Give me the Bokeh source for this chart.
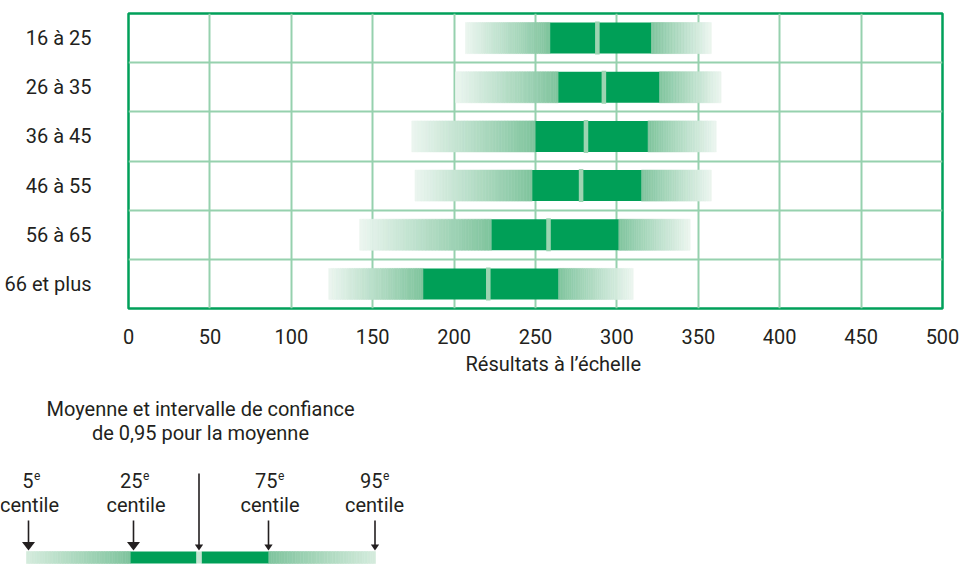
import numpy as np
from bokeh.plotting import figure
from bokeh.models import Range1d, FixedTicker, Title
from bokeh.core.properties import value
from bokeh.embed import file_html
from bokeh.resources import INLINE

# ---------------- data ----------------
age_groups = ["16 à 25", "26 à 35", "36 à 45", "46 à 55", "56 à 65", "66 et plus"]
p5 = [207, 201, 174, 176, 142, 123]
p25 = [259, 264, 250, 248, 223, 181]
mean = [288, 292, 281, 278, 258, 221]
p75 = [321, 326, 319, 315, 301, 264]
p95 = [358, 364, 361, 358, 345, 310]
ci_half = [1.4, 1.4, 1.4, 1.4, 1.4, 1.4]
x_ticks = [0, 50, 100, 150, 200, 250, 300, 350, 400, 450, 500]
x_title = "Résultats à l’échelle"

# key (legend) sample, in key-scale units
key_title = ["Moyenne et intervalle de confiance", "de 0,95 pour la moyenne"]
key_numbers = ["5", "25", "75", "95"]
key_word = "centile"
key_p5, key_p25, key_mean_lo, key_mean_hi, key_p75, key_p95 = 26, 130, 196, 201, 268, 375
key_arrow_x = [28, 133, 198.5, 268, 374.5]
key_arrow_big = [True, True, False, False, False]
key_label_x = [33, 142, 277, 382]
key_word_x = [29, 135.5, 269.5, 374]

FONT = "Roboto"
TXT = "#231F20"
DARK = "#009F57"
MED = (127, 196, 157)
LIGHT = (236, 246, 240)
KEY_LIGHT = (213, 235, 221)
GRID = "#96D1AE"
FRAME = "#00A05A"
MEANC = "#9DD4B2"


def mix(c1, c2, t):
    r = [int(round(a + (b - a) * t)) for a, b in zip(c1, c2)]
    return "#%02x%02x%02x" % tuple(r)


def gradient(x0, x1, c0, c1, n=40):
    e = np.linspace(x0, x1, n + 1)
    lefts = list(np.minimum(e[:-1], e[1:]))
    rights = list(np.maximum(e[:-1], e[1:]))
    cols = [mix(c0, c1, (k + 0.5) / n) for k in range(n)]
    return lefts, rights, cols


n = len(age_groups)
y_centers = [n - i - 0.5 for i in range(n)]
bar_h = 0.63

p = figure(width=963, height=380, x_range=Range1d(0, 500), y_range=Range1d(0, 6),
           output_backend="svg", toolbar_location=None,
           min_border_left=128, min_border_right=21, min_border_top=13, min_border_bottom=72)

# gradient parts
gl, gr, gb, gt, gc = [], [], [], [], []
for i in range(n):
    yc = y_centers[i]
    for (a, b, c0, c1) in [(p5[i], p25[i], LIGHT, MED), (p75[i], p95[i], MED, LIGHT)]:
        l, r, c = gradient(a, b, c0, c1)
        gl += l; gr += r; gc += c
        gb += [yc - bar_h / 2] * len(l)
        gt += [yc + bar_h / 2] * len(l)
p.quad(left=gl, right=gr, bottom=gb, top=gt, fill_color=gc, line_color=gc, line_width=0.6)

# dark interquartile
p.quad(left=p25, right=p75, bottom=[y - bar_h / 2 for y in y_centers],
       top=[y + bar_h / 2 for y in y_centers], fill_color=DARK, line_color=None)

# mean and CI
p.quad(left=[m - c for m, c in zip(mean, ci_half)], right=[m + c for m, c in zip(mean, ci_half)],
       bottom=[y - bar_h / 2 - 0.02 for y in y_centers], top=[y + bar_h / 2 + 0.02 for y in y_centers],
       fill_color=MEANC, line_color=None)

# grid / frame
p.xgrid.ticker = FixedTicker(ticks=x_ticks[1:-1])
p.ygrid.ticker = FixedTicker(ticks=[1, 2, 3, 4, 5])
p.grid.grid_line_color = GRID
p.grid.grid_line_width = 2
p.outline_line_color = FRAME
p.outline_line_width = 2.5

# axes
p.xaxis.ticker = FixedTicker(ticks=x_ticks)
p.yaxis.ticker = FixedTicker(ticks=y_centers)
p.yaxis.major_label_overrides = {y: g for y, g in zip(y_centers, age_groups)}
for ax in (p.xaxis[0], p.yaxis[0]):
    ax.axis_line_color = None
    ax.major_tick_line_color = None
    ax.minor_tick_line_color = None
    ax.major_label_text_font = FONT
    ax.major_label_text_color = TXT
p.xaxis.major_label_text_font_size = "20px"
p.yaxis.major_label_text_font_size = "20px"
p.xaxis.major_label_standoff = 14
p.yaxis.major_label_standoff = 31

p.add_layout(Title(text=x_title, align="left", offset=337, text_font=FONT, text_font_size="20px",
                   text_font_style="normal", text_color=TXT, standoff=7), "below")

# ---------------- key ----------------
k = figure(width=963, height=184, x_range=Range1d(0, 963), y_range=Range1d(564, 380),
           output_backend="svg", toolbar_location=None, min_border=0,
           x_axis_location=None, y_axis_location=None)
k.grid.visible = False
k.outline_line_color = None

k.text(x=[200, 200], y=[408, 432], text=key_title, text_align="center", text_baseline="alphabetic",
       text_font=value(FONT), text_font_size="20px", text_color=TXT)
k.text(x=key_label_x, y=[480] * 4, text=key_numbers, text_align="right", text_baseline="alphabetic",
       text_font=value(FONT), text_font_size="20px", text_color=TXT)
k.text(x=[x + 0.5 for x in key_label_x], y=[475] * 4, text=["e"] * 4, text_align="left",
       text_baseline="alphabetic", text_font=value(FONT), text_font_size="12px", text_color=TXT)
k.text(x=key_word_x, y=[504] * 4, text=[key_word] * 4, text_align="center", text_baseline="alphabetic",
       text_font=value(FONT), text_font_size="20px", text_color=TXT)

# key bar
bt, bb = 551, 563
kl, kr, kc = [], [], []
for (a, b, c0, c1) in [(key_p5, key_p25, KEY_LIGHT, MED), (key_p75, key_p95, MED, KEY_LIGHT)]:
    l, r, c = gradient(a, b, c0, c1)
    kl += l; kr += r; kc += c
k.quad(left=kl, right=kr, bottom=[bb] * len(kl), top=[bt] * len(kl), fill_color=kc, line_color=kc, line_width=0.6)
k.quad(left=[key_p25, key_mean_hi], right=[key_mean_lo, key_p75], bottom=[bb, bb], top=[bt, bt],
       fill_color=DARK, line_color=None)
k.quad(left=[key_mean_lo], right=[key_mean_hi], bottom=[bb], top=[bt], fill_color="#C6E5D2", line_color=None)

# key arrows
tip = 550
stem_top = [520, 520, 473, 520, 520]
xs0, ys0, xs1, ys1, hx, hy = [], [], [], [], [], []
for x, big, st in zip(key_arrow_x, key_arrow_big, stem_top):
    w, h = (13, 8.5) if big else (8.3, 6)
    xs0.append(x); xs1.append(x); ys0.append(st); ys1.append(tip - h + 1)
    hx.append([x - w / 2, x + w / 2, x])
    hy.append([tip - h, tip - h, tip])
k.segment(x0=xs0, y0=ys0, x1=xs1, y1=ys1, line_color=TXT, line_width=1.6)
k.patches(xs=hx, ys=hy, fill_color=TXT, line_color=None)

open("out.html", "w").write(file_html([p, k], INLINE))
